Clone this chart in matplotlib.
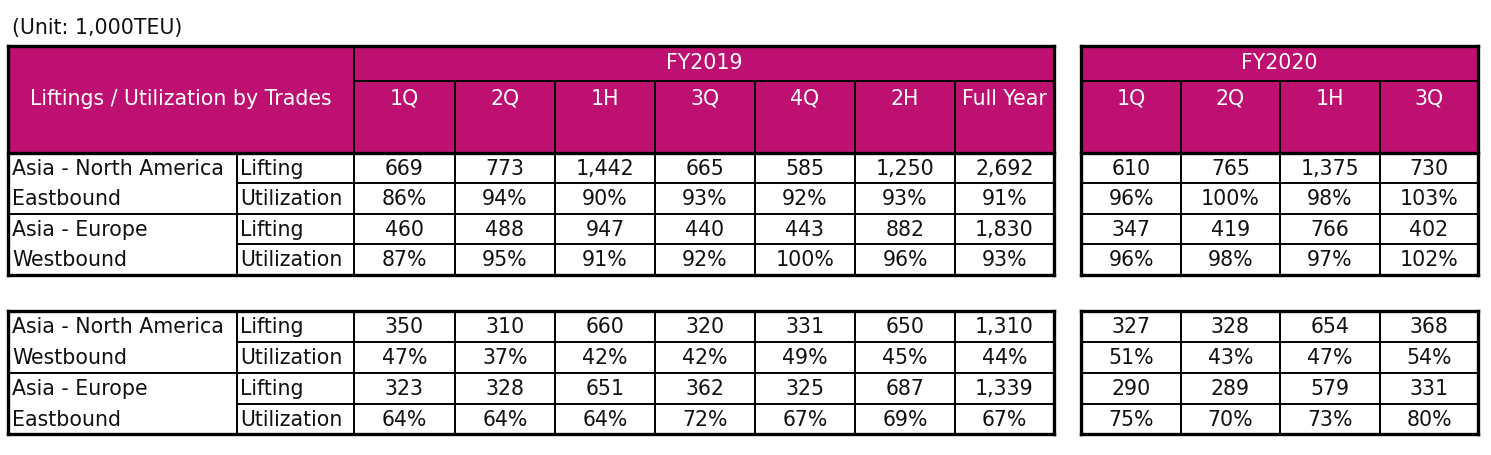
import matplotlib
matplotlib.use("Agg")
from matplotlib import pyplot as plt
from matplotlib.patches import Rectangle

# ---- data ----
unit_text = "(Unit: 1,000TEU)"
header_label = "Liftings / Utilization by Trades"
fy19_cols = ["1Q", "2Q", "1H", "3Q", "4Q", "2H", "Full Year"]
fy20_cols = ["1Q", "2Q", "1H", "3Q"]
row_kinds = ["Lifting", "Utilization"]

trades_top = [("Asia - North America", "Eastbound"), ("Asia - Europe", "Westbound")]
trades_bot = [("Asia - North America", "Westbound"), ("Asia - Europe", "Eastbound")]

fy19_top = [
    ["669", "773", "1,442", "665", "585", "1,250", "2,692"],
    ["86%", "94%", "90%", "93%", "92%", "93%", "91%"],
    ["460", "488", "947", "440", "443", "882", "1,830"],
    ["87%", "95%", "91%", "92%", "100%", "96%", "93%"],
]
fy20_top = [
    ["610", "765", "1,375", "730"],
    ["96%", "100%", "98%", "103%"],
    ["347", "419", "766", "402"],
    ["96%", "98%", "97%", "102%"],
]
fy19_bot = [
    ["350", "310", "660", "320", "331", "650", "1,310"],
    ["47%", "37%", "42%", "42%", "49%", "45%", "44%"],
    ["323", "328", "651", "362", "325", "687", "1,339"],
    ["64%", "64%", "64%", "72%", "67%", "69%", "67%"],
]
fy20_bot = [
    ["327", "328", "654", "368"],
    ["51%", "43%", "47%", "54%"],
    ["290", "289", "579", "331"],
    ["75%", "70%", "73%", "80%"],
]

# ---- layout (pixels) ----
MAG = "#BE1070"
FS = 14.8
TXT = "#111111"
TH = 2.4   # thick border
TN = 1.4   # thin line

x_left, x_split, x_lab = 8, 237, 354
x19 = [354, 455, 555, 655, 755, 855, 955, 1054]
x20 = [1081, 1181, 1280, 1380, 1478]

fig = plt.figure(figsize=(14.91, 4.56), dpi=100)
ax = fig.add_axes([0, 0, 1, 1])
ax.set_xlim(0, 1491)
ax.set_ylim(456, 0)
ax.axis("off")


def hline(y, x0, x1, lw):
    ax.plot([x0, x1], [y, y], color="black", lw=lw, solid_capstyle="projecting")


def vline(x, y0, y1, lw):
    ax.plot([x, x], [y0, y1], color="black", lw=lw, solid_capstyle="projecting")


ax.text(12, 28, unit_text, fontsize=FS, va="center", ha="left", color=TXT)

# header
h_top, h_mid, h_bot = 47, 82, 154
ax.add_patch(Rectangle((x_left, h_top), x19[-1] - x_left, h_bot - h_top, color=MAG, lw=0))
ax.add_patch(Rectangle((x20[0], h_top), x20[-1] - x20[0], h_bot - h_top, color=MAG, lw=0))
ax.text((x_left + x_lab) / 2, 99, header_label, color="white", fontsize=FS, ha="center", va="center")
ax.text((x19[0] + x19[-1]) / 2, 63, "FY2019", color="white", fontsize=FS, ha="center", va="center")
ax.text((x20[0] + x20[-1]) / 2, 63, "FY2020", color="white", fontsize=FS, ha="center", va="center")
for i, c in enumerate(fy19_cols):
    ax.text((x19[i] + x19[i + 1]) / 2, 99, c, color="white", fontsize=FS, ha="center", va="center")
for i, c in enumerate(fy20_cols):
    ax.text((x20[i] + x20[i + 1]) / 2, 99, c, color="white", fontsize=FS, ha="center", va="center")

hline(h_mid, x19[0], x19[-1], TN)
hline(h_mid, x20[0], x20[-1], TN)
for x in x19[1:-1]:
    vline(x, h_mid, h_bot, TN)
for x in x20[1:-1]:
    vline(x, h_mid, h_bot, TN)
vline(x_lab, h_top, h_bot, TN)


def draw_block(y_top, rows_y, trades, v19, v20, has_header):
    y_bot = rows_y[-1]
    # thin lines inside
    for k in range(1, 4):
        y = rows_y[k]
        x0 = x_left if k == 2 else x_split
        hline(y, x0, x19[-1], TN)
        hline(y, x20[0], x20[-1], TN)
    for x in [x_split] + x19[:-1]:
        vline(x, y_top, y_bot, TN)
    for x in x20[1:-1]:
        vline(x, y_top, y_bot, TN)
    # outer borders
    top0 = h_top if has_header else y_top
    hline(top0, x_left, x19[-1], TH)
    hline(top0, x20[0], x20[-1], TH)
    if has_header:
        hline(y_top, x_left, x19[-1], TH)
        hline(y_top, x20[0], x20[-1], TH)
    hline(y_bot, x_left, x19[-1], TH)
    hline(y_bot, x20[0], x20[-1], TH)
    vline(x_left, top0, y_bot, TH)
    vline(x19[-1], top0, y_bot, TH)
    vline(x20[0], top0, y_bot, TH)
    vline(x20[-1], top0, y_bot, TH)
    # text
    for r in range(4):
        yc = (rows_y[r] + rows_y[r + 1]) / 2
        name = trades[r // 2][r % 2]
        ax.text(12, yc, name, fontsize=FS, ha="left", va="center", color=TXT)
        ax.text(x_split + 3, yc, row_kinds[r % 2], fontsize=FS, ha="left", va="center", color=TXT)
        for i, v in enumerate(v19[r]):
            ax.text((x19[i] + x19[i + 1]) / 2, yc, v, fontsize=FS, ha="center", va="center", color=TXT)
        for i, v in enumerate(v20[r]):
            ax.text((x20[i] + x20[i + 1]) / 2, yc, v, fontsize=FS, ha="center", va="center", color=TXT)


draw_block(h_bot, [154, 184, 215, 245, 276], trades_top, fy19_top, fy20_top, True)
draw_block(312, [312, 343, 374, 405, 435], trades_bot, fy19_bot, fy20_bot, False)

fig.savefig("out.png", dpi=100)
